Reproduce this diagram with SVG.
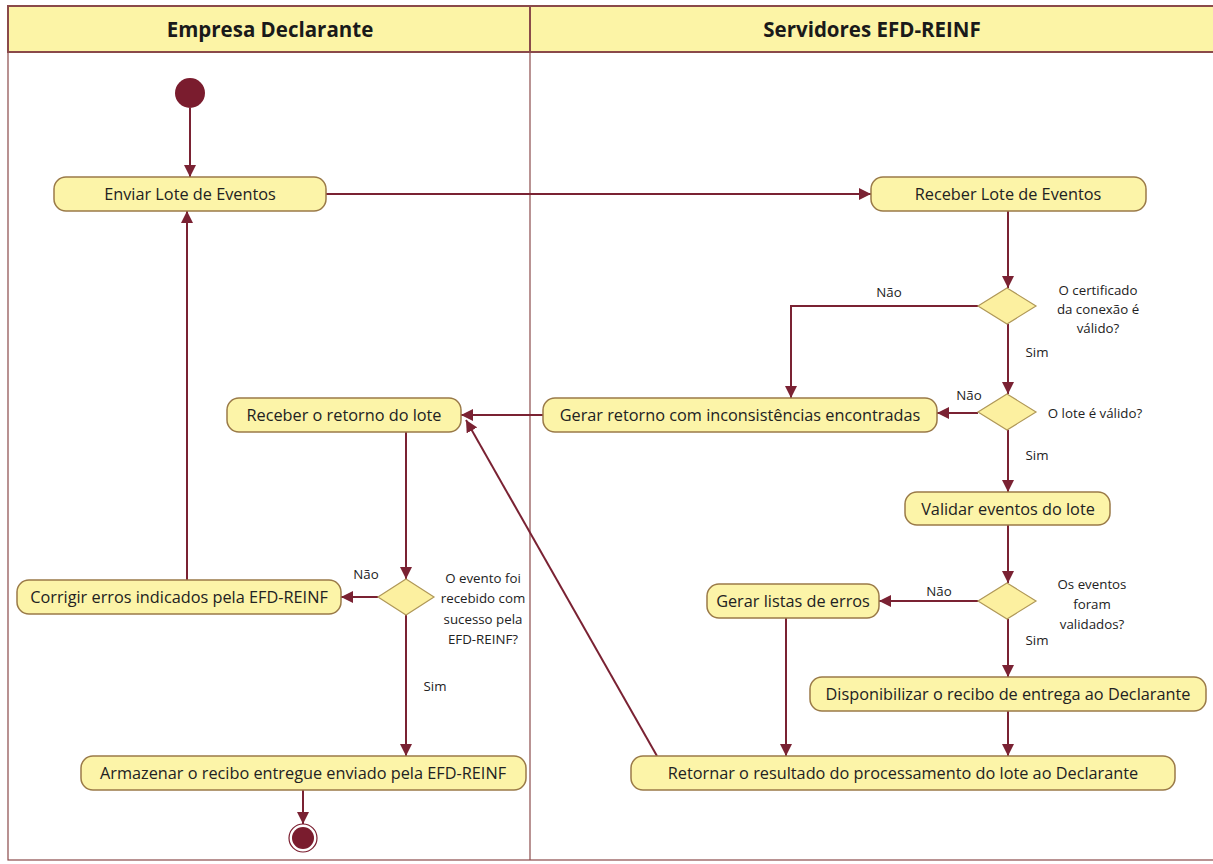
<svg xmlns="http://www.w3.org/2000/svg" width="1213" height="864" viewBox="0 0 1213 864">
<defs>
<style>
.lane{fill:#ffffff;stroke:#8a4a4a;stroke-width:1.2}
.hdr{fill:#fcf4a6;stroke:#8a4a4a;stroke-width:2}
.ht{font-family:"Open Sans","Liberation Sans",sans-serif;font-weight:bold;font-size:20.5px;fill:#1a1a1a;text-anchor:middle}
.act{fill:#fcf4a8;stroke:#9a7a48;stroke-width:1.5}
.at{font-family:"Open Sans","Liberation Sans",sans-serif;font-size:16.3px;fill:#222;text-anchor:middle;dominant-baseline:central}
.dec{fill:#fcf0a0;stroke:#b09858;stroke-width:1.2}
.lbl{font-family:"Open Sans","Liberation Sans",sans-serif;font-size:13.3px;fill:#222;text-anchor:middle;dominant-baseline:central}
.c{fill:none;stroke:#7a2233;stroke-width:2;marker-end:url(#ah)}
</style>
<marker id="ah" viewBox="0 0 10 10" refX="10" refY="5" markerWidth="6" markerHeight="6" orient="auto" markerUnits="strokeWidth">
<path d="M0,0 L10,5 L0,10 z" fill="#7a2233"/>
</marker>
</defs>

<g id="lanes">
<rect class="lane" x="8" y="6" width="1210" height="854"/>
<line x1="530" y1="6" x2="530" y2="860" stroke="#8a4a4a" stroke-width="1.2"/>
<rect class="hdr" x="8" y="6" width="1210" height="46"/>
<line x1="530" y1="6" x2="530" y2="52" stroke="#8a4a4a" stroke-width="2"/>
<text class="ht" x="270" y="37">Empresa Declarante</text>
<text class="ht" x="872" y="37">Servidores EFD-REINF</text>
</g>

<g id="connectors">
<line class="c" x1="190" y1="108" x2="190" y2="177"/>
<line class="c" x1="326" y1="194" x2="871" y2="194"/>
<line class="c" x1="1008" y1="211" x2="1008" y2="288"/>
<polyline class="c" points="978,306 791,306 791,398"/>
<line class="c" x1="1008" y1="324" x2="1008" y2="394"/>
<line class="c" x1="978" y1="413" x2="937" y2="413"/>
<line class="c" x1="543" y1="415" x2="461" y2="415"/>
<line class="c" x1="1008" y1="430" x2="1008" y2="492"/>
<line class="c" x1="1008" y1="525" x2="1008" y2="583"/>
<line class="c" x1="978" y1="601" x2="879" y2="601"/>
<line class="c" x1="1008" y1="619" x2="1008" y2="677"/>
<line class="c" x1="786" y1="618" x2="786" y2="756"/>
<line class="c" x1="1008" y1="711" x2="1008" y2="756"/>
<line class="c" x1="657" y1="756" x2="466" y2="420"/>
<line class="c" x1="406" y1="432" x2="406" y2="579"/>
<line class="c" x1="378" y1="597" x2="341" y2="597"/>
<line class="c" x1="187" y1="580" x2="187" y2="211"/>
<line class="c" x1="406" y1="615" x2="406" y2="756"/>
<line class="c" x1="303" y1="790" x2="303" y2="824"/>
</g>

<g id="start"><circle cx="190" cy="93" r="15" fill="#7a1c2e"/></g>
<g id="end"><circle cx="303" cy="838" r="14" fill="#ffffff" stroke="#7a1c2e" stroke-width="1.2"/><circle cx="303" cy="838" r="11" fill="#7a1c2e"/></g>

<g id="enviar"><rect class="act" x="54" y="177" width="272" height="34" rx="12"/><text class="at" x="190" y="194">Enviar Lote de Eventos</text></g>
<g id="receberLote"><rect class="act" x="871" y="177" width="275" height="34" rx="12"/><text class="at" x="1008" y="194">Receber Lote de Eventos</text></g>

<g id="d1"><polygon class="dec" points="1007,288 1036,306 1007,324 978,306"/>
<text class="lbl" x="1098" y="290">O certificado</text><text class="lbl" x="1098" y="309">da conexão é</text><text class="lbl" x="1098" y="328">válido?</text>
<text class="lbl" x="889" y="292">Não</text><text class="lbl" x="1037" y="352">Sim</text></g>

<g id="d2"><polygon class="dec" points="1007,394 1036,412 1007,430 978,412"/>
<text class="lbl" x="969" y="395">Não</text><text class="lbl" x="1095" y="413">O lote é válido?</text><text class="lbl" x="1037" y="455">Sim</text></g>

<g id="gerarRetorno"><rect class="act" x="543" y="398" width="394" height="34" rx="12"/><text class="at" x="740" y="415">Gerar retorno com inconsistências encontradas</text></g>
<g id="receberRetorno"><rect class="act" x="227" y="398" width="234" height="34" rx="12"/><text class="at" x="344" y="415">Receber o retorno do lote</text></g>
<g id="validar"><rect class="act" x="905" y="492" width="205" height="33" rx="12"/><text class="at" x="1008" y="509">Validar eventos do lote</text></g>

<g id="d3"><polygon class="dec" points="1007,583 1036,601 1007,619 978,601"/>
<text class="lbl" x="939" y="591">Não</text><text class="lbl" x="1092" y="584">Os eventos</text><text class="lbl" x="1092" y="604">foram</text><text class="lbl" x="1092" y="624">validados?</text><text class="lbl" x="1037" y="640">Sim</text></g>

<g id="gerarListas"><rect class="act" x="707" y="584" width="172" height="34" rx="12"/><text class="at" x="793" y="601">Gerar listas de erros</text></g>
<g id="disponibilizar"><rect class="act" x="810" y="677" width="396" height="34" rx="12"/><text class="at" x="1008" y="694">Disponibilizar o recibo de entrega ao Declarante</text></g>
<g id="retornar"><rect class="act" x="631" y="756" width="544" height="34" rx="12"/><text class="at" x="903" y="773">Retornar o resultado do processamento do lote ao Declarante</text></g>

<g id="d4"><polygon class="dec" points="406,579 434,597 406,615 378,597"/>
<text class="lbl" x="366" y="574">Não</text>
<text class="lbl" x="483" y="578">O  evento foi</text><text class="lbl" x="483" y="598">recebido com</text><text class="lbl" x="483" y="619">sucesso pela</text><text class="lbl" x="483" y="639">EFD-REINF?</text>
<text class="lbl" x="435" y="686">Sim</text></g>

<g id="corrigir"><rect class="act" x="17" y="580" width="324" height="34" rx="12"/><text class="at" x="179" y="597">Corrigir erros indicados pela EFD-REINF</text></g>
<g id="armazenar"><rect class="act" x="81" y="756" width="445" height="34" rx="12"/><text class="at" x="303" y="773">Armazenar o recibo entregue enviado pela EFD-REINF</text></g>
</svg>
